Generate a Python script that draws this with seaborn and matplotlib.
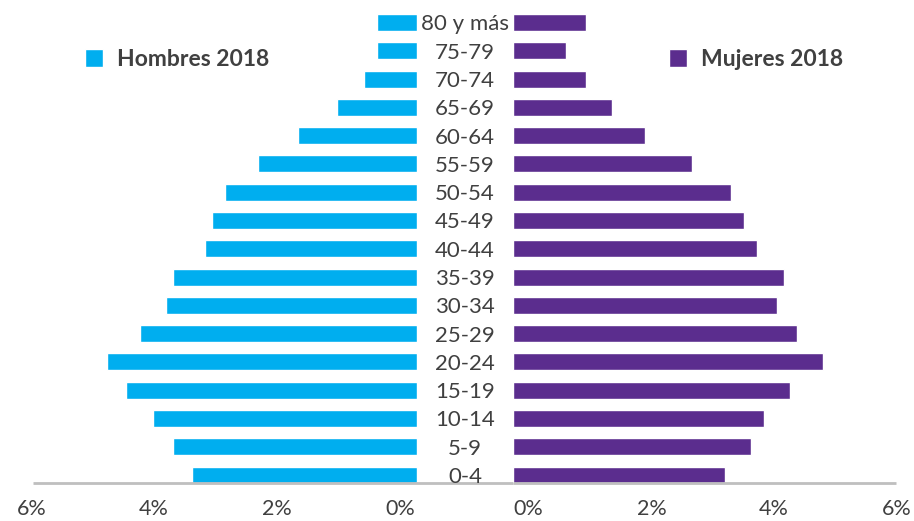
import matplotlib.pyplot as plt
import matplotlib.transforms as mtransforms
import pandas as pd
import seaborn as sns

AGES = ["80 y más", "75-79", "70-74", "65-69", "60-64", "55-59", "50-54", "45-49",
        "40-44", "35-39", "30-34", "25-29", "20-24", "15-19", "10-14", "5-9", "0-4"]
HOMBRES = [0.62, 0.62, 0.83, 1.25, 1.86, 2.48, 3.00, 3.20, 3.31, 3.81, 3.92,
           4.33, 4.84, 4.55, 4.13, 3.81, 3.52]
MUJERES = [1.14, 0.83, 1.14, 1.55, 2.07, 2.81, 3.42, 3.62, 3.82, 4.25, 4.14,
           4.45, 4.86, 4.34, 3.93, 3.73, 3.32]
XTICKS = [0, 2, 4, 6]

BLUE = "#00AEEF"
PURPLE = "#5B2D8E"
TEXT = "#404040"

sns.set_theme(style="white")
plt.rcParams["font.family"] = ["Lato", "DejaVu Sans"]

df = pd.DataFrame({"edad": AGES, "hombres": HOMBRES, "mujeres": MUJERES})

fig = plt.figure(figsize=(9.14, 5.21), dpi=100)
ax_l = fig.add_axes([0.0361, 0.072, 0.4201, 0.912])
ax_r = fig.add_axes([0.5613, 0.072, 0.4190, 0.912])

sns.barplot(data=df, x="hombres", y="edad", order=AGES, color=BLUE, width=0.6,
            saturation=1, ax=ax_l, label="Hombres 2018")
sns.barplot(data=df, x="mujeres", y="edad", order=AGES, color=PURPLE, width=0.6,
            saturation=1, ax=ax_r, label="Mujeres 2018")

for ax in (ax_l, ax_r):
    ax.set_xlim(0, 6)
    ax.set_ylim(16.3, -0.5)
    ax.set_xlabel("")
    ax.set_ylabel("")
    ax.set_xticks(XTICKS)
    ax.set_xticklabels([f"{v}%" for v in XTICKS])
    ax.tick_params(axis="x", length=0, pad=11, labelsize=15.5, labelcolor=TEXT)
    for s in ax.spines.values():
        s.set_visible(False)
    ax.grid(False)

ax_l.invert_xaxis()
ax_l.set_yticks([])

# Excel-like tick label placement: labels pulled in toward the centre gap
for ax, shifts in ((ax_l, [-17, -12, -7, -1]), (ax_r, [15, 11, 5, 1])):
    for lab, dx in zip(ax.get_xticklabels(), shifts):
        lab.set_transform(lab.get_transform() +
                          mtransforms.ScaledTranslation(dx / fig.dpi, 0, fig.dpi_scale_trans))

# age labels centred in the gap between the two panels
ax_r.tick_params(axis="y", length=0, pad=34.5, labelsize=16, labelcolor=TEXT)
for lab in ax_r.get_yticklabels():
    lab.set_horizontalalignment("center")

# continuous grey baseline across both panels
ax_l.plot([0, 1.25], [0, 0], transform=ax_l.transAxes, color="#BFBFBF", lw=2,
          clip_on=False, solid_capstyle="butt")
ax_r.plot([0, 1], [0, 0], transform=ax_r.transAxes, color="#BFBFBF", lw=2,
          clip_on=False, solid_capstyle="butt")

for ax, x0 in ((ax_l, 0.135), (ax_r, 0.407)):
    leg = ax.legend(loc="upper left", bbox_to_anchor=(x0, 0.915), frameon=False,
                    handlelength=0.8, handleheight=0.8, handletextpad=0.6,
                    borderpad=0, borderaxespad=0,
                    prop={"weight": "bold", "size": 16.5})
    for t in leg.get_texts():
        t.set_color(TEXT)

fig.savefig("out.png", dpi=100)
